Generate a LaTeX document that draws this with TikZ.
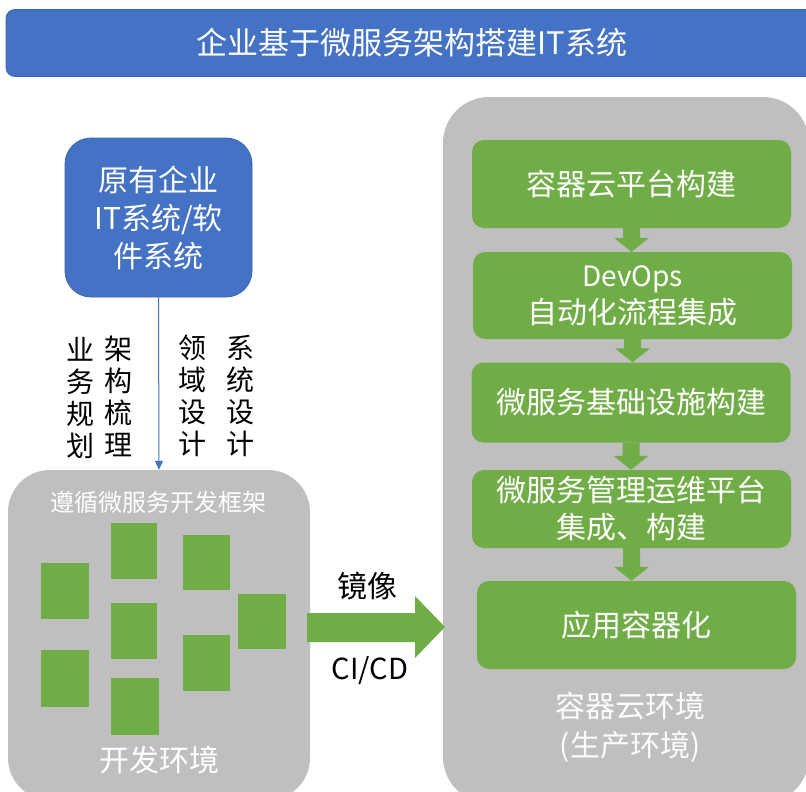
\documentclass[tikz,border=0pt]{standalone}
\usepackage{fontspec}
\setmainfont{Noto Sans CJK SC}
\usetikzlibrary{arrows.meta,calc}
\definecolor{ablue}{HTML}{4472C4}
\definecolor{aedge}{HTML}{3A64AE}
\definecolor{agreen}{HTML}{70AD47}
\definecolor{agray}{HTML}{BFBFBF}
\newcommand{\fs}[2]{\fontsize{#1}{#2}\selectfont}
\tikzset{
  panel/.style={fill=agray, draw=none, rounded corners=42pt, inner sep=0pt},
  stepbox/.style={fill=agreen, draw=none, rounded corners=12pt, minimum width=319pt,
    text=white, align=center, inner sep=0pt, font=\fs{30}{37}},
  tile/.style={fill=agreen, draw=none, inner sep=0pt},
  vcol/.style={text=black, align=center, inner sep=0pt, font=\fs{28}{32}},
  downarr/.style={fill=agreen, draw=none},
}
\begin{document}
\begin{tikzpicture}[x=1pt,y=-1pt]
\clip (0,0) rectangle (806,792);
\useasboundingbox (0,0) rectangle (806,792);

% title bar
\node[fill=ablue, draw=aedge, line width=0.8pt, rounded corners=9pt, minimum width=812pt,
  minimum height=67pt, inner sep=0pt] (title) at (412,43) {};
\node[text=white, font=\fs{31}{36}] (titletext) at (412,43) {企业基于微服务架构搭建IT系统};

% legacy system
\node[fill=ablue, draw=aedge, line width=0.8pt, rounded corners=26pt, minimum width=187pt,
  minimum height=159pt, inner sep=0pt, text=white, align=center, font=\fs{30}{38}]
  (legacy) at (158.5,217.5) {原有企业\\IT系统/软\\件系统};

% development environment
\node[panel, minimum width=302pt, minimum height=330pt] (dev) at (159,635) {};
\node[text=white, font=\fs{24}{28}] (devtitle) at (158,502) {遵循微服务开发框架};
\node[text=white, font=\fs{30}{34}] (devname) at (159,760) {开发环境};

\draw[ablue, line width=1pt, -{Triangle[length=9pt,width=8pt]}] (legacy.south) -- (dev.north);

% labels beside the arrow
\node[vcol] (c1) at (80,398) {业\\务\\规\\划};
\node[vcol] (c2) at (118,396) {架\\构\\梳\\理};
\node[vcol] (c3) at (192,396) {领\\域\\设\\计};
\node[vcol] (c4) at (240,396) {系\\统\\设\\计};

% microservice tiles
\node[tile, minimum width=48pt, minimum height=56pt] (t1) at (65,591) {};
\node[tile, minimum width=46pt, minimum height=56pt] (t2) at (134,551) {};
\node[tile, minimum width=47pt, minimum height=55pt] (t3) at (206.5,562.5) {};
\node[tile, minimum width=48pt, minimum height=57pt] (t4) at (65,678.5) {};
\node[tile, minimum width=46pt, minimum height=56pt] (t5) at (134,631) {};
\node[tile, minimum width=47pt, minimum height=56pt] (t6) at (206.5,663) {};
\node[tile, minimum width=48pt, minimum height=55pt] (t7) at (262,621.5) {};
\node[tile, minimum width=48pt, minimum height=57pt] (t8) at (135,706.5) {};

% container cloud environment
\node[panel, rounded corners=46pt, minimum width=366pt, minimum height=706pt] (prod) at (626,450) {};

\node[stepbox, minimum height=88pt] (b1) at (631.5,184) {容器云平台构建};
\node[stepbox, minimum height=87pt] (b2) at (632.5,295.5) {\fs{28}{37}DevOps\\自动化流程集成};
\node[stepbox, minimum height=80pt] (b3) at (631,402.5) {微服务基础设施构建};
\node[stepbox, minimum height=78pt] (b4) at (631.5,509) {微服务管理运维平台\\集成、构建};
\node[stepbox, minimum height=88pt] (b5) at (636.5,625) {应用容器化};

\node[text=white!95!agray, align=center, font=\fs{30}{39}] (prodname) at (630,727)
  {容器云环境\\(生产环境)};

% arrows between the steps
\foreach \a/\b in {b1/b2, b2/b3, b3/b4, b4/b5} {
  \path let \p1 = (\a.south), \p2 = (\b.north) in
    [downarr] (\x1-8.5,\y1) -- (\x1+8.5,\y1) -- (\x1+8.5,\y2+14) -- (\x1+17.5,\y2+14)
    -- (\x1,\y2) -- (\x1-17.5,\y2+14) -- (\x1-8.5,\y2+14) -- cycle;
}

% image / CI-CD arrow
\coordinate (tip) at (445,627);
\fill[agreen] (307,613) -- (415,613) -- (415,596) -- (tip) -- (415,658) -- (415,642) -- (307,642) -- cycle;
\node[text=black, font=\fs{30}{34}] (mirror) at (367,586) {镜像};
\node[text=black, font=\fs{29}{34}] (cicd) at (370,671) {CI/CD};
\end{tikzpicture}
\end{document}
